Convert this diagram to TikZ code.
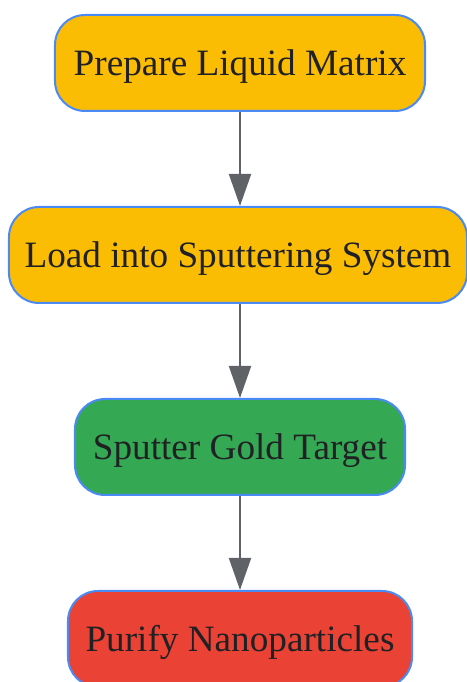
\documentclass[tikz,border=0pt]{standalone}
\usepackage{fontspec}
\setmainfont{Liberation Serif}
\usetikzlibrary{arrows.meta}
\definecolor{stepyellow}{HTML}{FBBC04}
\definecolor{stepgreen}{HTML}{34A853}
\definecolor{stepred}{HTML}{EA4335}
\definecolor{stepborder}{HTML}{4A8AF4}
\definecolor{arrowgray}{HTML}{5F6368}
\definecolor{textdark}{HTML}{202124}
\tikzset{
  stepbox/.style={draw=stepborder, line width=2bp, rounded corners=30bp,
    minimum height=96bp, inner xsep=0pt, text=textdark,
    text height=28bp, text depth=2bp, font=\fontsize{37.2bp}{40bp}\selectfont},
  flow/.style={draw=arrowgray, line width=2bp, -{Triangle[length=32bp,width=22bp]}}
}
\begin{document}
\begin{tikzpicture}[x=1bp,y=1bp]
  \useasboundingbox (0,0) rectangle (467,682);
  \draw
    (240,619) node[stepbox, fill=stepyellow, minimum width=370bp] (prep){Prepare Liquid Matrix}
    (238,427) node[stepbox, fill=stepyellow, minimum width=458bp] (load){Load into Sputtering System}
    (240,235) node[stepbox, fill=stepgreen, minimum width=330bp] (sput){Sputter Gold Target}
    (240,43) node[stepbox, fill=stepred, minimum width=344bp] (puri){Purify Nanoparticles};
  \begin{scope}[flow]
    \draw (prep.south) to (prep.south |- load.north);
    \draw (sput.north |- load.south) to (sput.north);
    \draw (sput.south) to (puri.north);
  \end{scope}
\end{tikzpicture}
\end{document}
